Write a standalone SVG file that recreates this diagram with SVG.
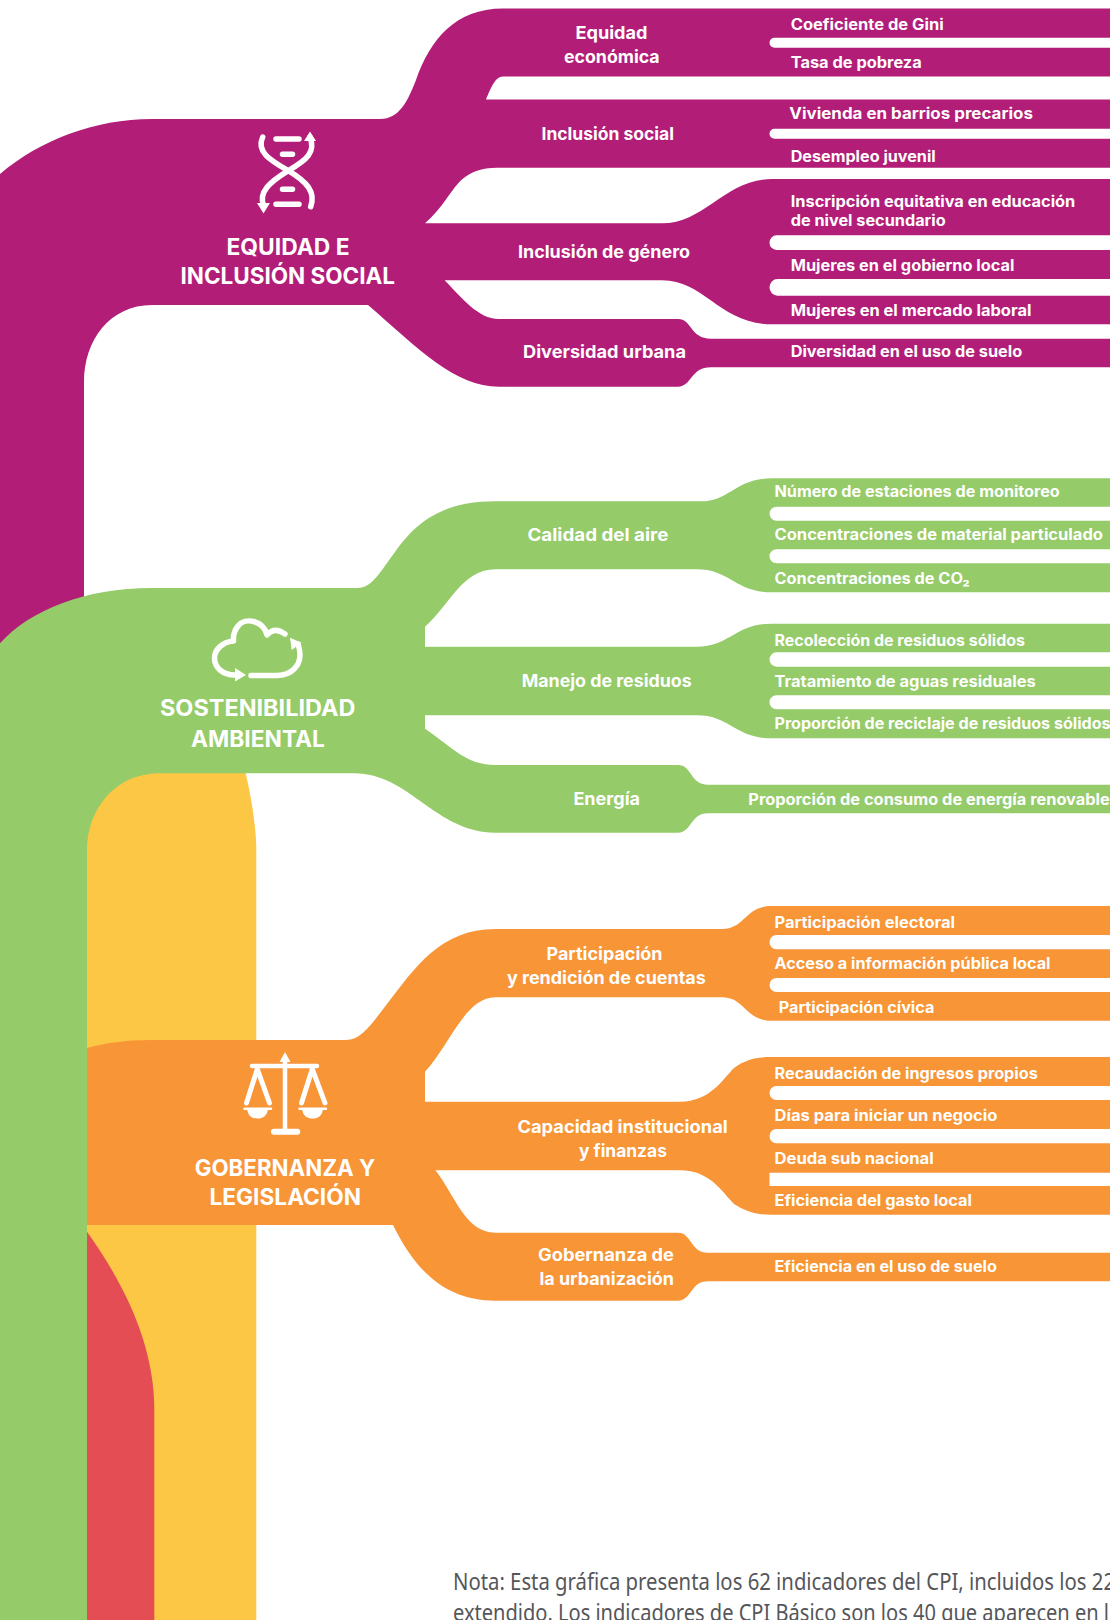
<svg xmlns="http://www.w3.org/2000/svg" width="1110" height="1620" viewBox="0 0 1110 1620">
<style>
text{font-family:"Inter","Liberation Sans",sans-serif;font-weight:700;fill:#fff}
.l{font-size:15.5px}
.m{font-size:17.5px}
.t{font-size:23px}
.n{font-family:"Noto Sans","Open Sans",sans-serif;font-weight:400;font-size:23.5px;fill:#55565a}
.p{fill:#fff}
.i{fill:none;stroke:#fff;stroke-width:5.5;stroke-linecap:round;stroke-linejoin:round}
.f{fill:#fff}
</style>
<rect width="1110" height="1620" fill="#fff"/>
<g id="bands">
<path id="band-yellow" fill="#FDC746" d="M87 850V773H245.6C252 800 256.3 830 256.3 850V1620H87Z"/>
<path id="band-red" fill="#E54D55" d="M87 1231.7C125 1285 154.3 1345 154.3 1410V1620H87Z"/>
</g>
<g id="equidad">
<path fill="#B21D78" d="M0 174C40 140 95 119 152 119H380C400 119 408 100 416 80C430 40 455 8.5 503 8.5H1110V76.5H503C495 76.5 491 88 486 99.5H1110V167.7H497C465 167.7 457 185 447 198C440 208 433 216 425 223.3H662C705 223.3 725 179 772 179H1110V324.3H772C720 324.3 705 280.3 662 280.3H444.6C462 298 478 319 499 319H678C692 319 690 338.7 711 338.7H1110V367.3H711C690 367.3 692 386.7 678 386.7H499C455 386.7 420 350 368 305H152C110 305 84 340 84 382V660H0Z"/>
<path class="p" d="M1110 37.7H774.5a5 5 0 0 0 0 10H1110ZM1110 128.7H774.5a5 5 0 0 0 0 10H1110ZM1110 235.3H776.5a7 7.35 0 0 0 0 14.7H1110ZM1110 279H777.5a8 8.35 0 0 0 0 16.7H1110Z"/>
<g id="icon-dna">
<path class="i" d="M262.7 137C256 152 270 160 288.3 170.7C307 182 316 192 310.7 206.7M310 137C316 152 307 160 288.3 170.7C270 182 258 192 263.7 206"/>
<path class="f" d="M310 131.5L316 141L304 141ZM263.5 213.5L257 203L270 203Z"/>
<path class="i" d="M276 139H299M282.5 154.3H292.5M282.5 189.3H292.5M276 204.3H299"/>
</g>
<text class="t" x="226.5" y="255" textLength="123" lengthAdjust="spacingAndGlyphs">EQUIDAD E</text>
<text class="t" x="180.5" y="284.3" textLength="214.5" lengthAdjust="spacingAndGlyphs">INCLUSIÓN SOCIAL</text>
<text class="m" x="575.5" y="38.7" textLength="72" lengthAdjust="spacingAndGlyphs">Equidad</text>
<text class="m" x="564" y="63" textLength="95.6" lengthAdjust="spacingAndGlyphs">económica</text>
<text class="m" x="541.5" y="140.3" textLength="132.5" lengthAdjust="spacingAndGlyphs">Inclusión social</text>
<text class="m" x="518" y="258.3" textLength="172" lengthAdjust="spacingAndGlyphs">Inclusión de género</text>
<text class="m" x="523" y="357.7" textLength="163" lengthAdjust="spacingAndGlyphs">Diversidad urbana</text>
<text class="l" x="790.7" y="30" textLength="153" lengthAdjust="spacingAndGlyphs">Coeficiente de Gini</text>
<text class="l" x="790.7" y="67.7" textLength="131" lengthAdjust="spacingAndGlyphs">Tasa de pobreza</text>
<text class="l" x="789.3" y="118.7" textLength="243.6" lengthAdjust="spacingAndGlyphs">Vivienda en barrios precarios</text>
<text class="l" x="790.7" y="162.3" textLength="145" lengthAdjust="spacingAndGlyphs">Desempleo juvenil</text>
<text class="l" x="790.7" y="206.7" textLength="284.6" lengthAdjust="spacingAndGlyphs">Inscripción equitativa en educación</text>
<text class="l" x="790.7" y="225.7" textLength="155" lengthAdjust="spacingAndGlyphs">de nivel secundario</text>
<text class="l" x="790.7" y="270.7" textLength="223.7" lengthAdjust="spacingAndGlyphs">Mujeres en el gobierno local</text>
<text class="l" x="790.7" y="316" textLength="240.7" lengthAdjust="spacingAndGlyphs">Mujeres en el mercado laboral</text>
<text class="l" x="790.7" y="357.3" textLength="231.5" lengthAdjust="spacingAndGlyphs">Diversidad en el uso de suelo</text>
</g>
<g id="sostenibilidad">
<path fill="#95CB69" d="M0 643.3C30 610 85 588 152 588H357.5C372 588 380 572 395 552C415 524 440 501.3 495.5 501.3H701C730 501.3 735 478.3 771.6 478.3H1110V592.3H771.6C735 592.3 730 569.3 697 569.3H495.5C462 569.3 450 605 425 626.7V646.7H697C730 646.7 735 623.7 771.6 623.7H1110V738.3H771.6C735 738.3 730 715.3 697 715.3H425V728.7C450 745 465 765 495.5 765H678C692 765 690 784.7 708 784.7H1110V813.3H708C690 813.3 692 832.7 678 832.7H495.5C435 832.7 410 773.3 354 773.3H159C115 773.3 87 810 87 850V1620H0Z"/>
<path class="p" d="M1110 506.7H776.5a7 7 0 0 0 0 14H1110ZM1110 549.3H776.5a7 7 0 0 0 0 14H1110ZM1110 652.3H776.5a7 7.2 0 0 0 0 14.4H1110ZM1110 695.3H776.5a7 7 0 0 0 0 14H1110Z"/>
<g id="icon-cloud">
<path class="i" d="M285 634C278 629 272 629 267 635C263 620 245 617 238 626C234 631 233 636 233.5 641C222 642 214.5 650 214.5 658C214.5 667 222 675 235 675M251 675.5H277C292 675.5 300 665 300 655C300 650 299 647 298 644"/>
<path class="f" d="M246 675L235 668L235 681.5ZM290 637.7L301.5 642.7L291.7 650Z"/>
</g>
<text class="t" x="160" y="716.2" textLength="195.4" lengthAdjust="spacingAndGlyphs">SOSTENIBILIDAD</text>
<text class="t" x="191" y="747.3" textLength="134" lengthAdjust="spacingAndGlyphs">AMBIENTAL</text>
<text class="m" x="527.4" y="541.3" textLength="141" lengthAdjust="spacingAndGlyphs">Calidad del aire</text>
<text class="m" x="521.7" y="686.9" textLength="170" lengthAdjust="spacingAndGlyphs">Manejo de residuos</text>
<text class="m" x="573.4" y="805" textLength="66.6" lengthAdjust="spacingAndGlyphs">Energía</text>
<text class="l" x="774.5" y="496.7" textLength="285.3" lengthAdjust="spacingAndGlyphs">Número de estaciones de monitoreo</text>
<text class="l" x="774.5" y="540.2" textLength="328.5" lengthAdjust="spacingAndGlyphs">Concentraciones de material particulado</text>
<text class="l" x="774.5" y="584" textLength="195.3" lengthAdjust="spacingAndGlyphs">Concentraciones de CO₂</text>
<text class="l" x="774.5" y="646" textLength="250.5" lengthAdjust="spacingAndGlyphs">Recolección de residuos sólidos</text>
<text class="l" x="774.5" y="687" textLength="261.2" lengthAdjust="spacingAndGlyphs">Tratamiento de aguas residuales</text>
<text class="l" x="774.5" y="729.3" textLength="336" lengthAdjust="spacingAndGlyphs">Proporción de reciclaje de residuos sólidos</text>
<text class="l" x="748.3" y="805" textLength="361.5" lengthAdjust="spacingAndGlyphs">Proporción de consumo de energía renovable</text>
</g>
<g id="gobernanza">
<path fill="#F79537" d="M87 1048C105 1043 125 1040 152 1040H346C362 1040 372 1023 387 1004C415 968 440 929 495.5 929H722C745 929 745 906 771.6 906H1110V1020.7H771.6C745 1020.7 745 997.3 722 997.3H495.5C465 997.3 450 1045 425 1071.7V1101.7H680C710 1101.7 722 1080 734 1068C745 1060 755 1057 771.6 1057H1110V1214.7H771.6C755 1214.7 745 1211 734 1204C722 1192 710 1170.3 680 1170.3H435.4C455 1195 465 1232.7 495.5 1232.7H678C692 1232.7 690 1252.7 708 1252.7H1110V1281.3H708C690 1281.3 692 1300.7 678 1300.7H495.5C445 1300.7 415 1270 393 1225H87Z"/>
<path class="p" d="M1110 935H776.5a7 7.15 0 0 0 0 14.3H1110ZM1110 978H776.5a7 7 0 0 0 0 14H1110ZM1110 1086H776.5a7 7 0 0 0 0 14H1110ZM1110 1129H776.5a7 7.15 0 0 0 0 14.3H1110ZM1110 1172.7H769.5V1186H1110Z"/>
<g id="icon-scales">
<path class="i" style="stroke-width:4.5" d="M285 1060V1131M252 1066H317"/>
<path class="f" d="M285 1052L279.5 1062L290.5 1062ZM274 1128.7H297.3a3 3 0 0 1 0 6H274a3 3 0 0 1 0 -6Z"/>
<path class="i" style="stroke-width:5" d="M257.3 1069L246.5 1103M257.3 1069L269.5 1103M312.3 1069L301.5 1103M312.3 1069L325 1103"/>
<path class="i" style="stroke-width:2.5" d="M244.5 1108.7H271M299.5 1108.7H326"/>
<path class="f" d="M247 1109H268C267 1116 263 1118.5 257.5 1118.5C252 1118.5 248 1116 247 1109ZM302 1109H323C322 1116 318.3 1118.5 312.8 1118.5C307 1118.5 303 1116 302 1109Z"/>
</g>
<text class="t" x="194.7" y="1175.7" textLength="180.5" lengthAdjust="spacingAndGlyphs">GOBERNANZA Y</text>
<text class="t" x="209.5" y="1205" textLength="151.5" lengthAdjust="spacingAndGlyphs">LEGISLACIÓN</text>
<text class="m" x="546.5" y="960.3" textLength="116" lengthAdjust="spacingAndGlyphs">Participación</text>
<text class="m" x="507" y="984.3" textLength="198.8" lengthAdjust="spacingAndGlyphs">y rendición de cuentas</text>
<text class="m" x="517.5" y="1133" textLength="210.2" lengthAdjust="spacingAndGlyphs">Capacidad institucional</text>
<text class="m" x="579" y="1157" textLength="87.9" lengthAdjust="spacingAndGlyphs">y finanzas</text>
<text class="m" x="538" y="1261" textLength="136" lengthAdjust="spacingAndGlyphs">Gobernanza de</text>
<text class="m" x="539.4" y="1285.3" textLength="134.6" lengthAdjust="spacingAndGlyphs">la urbanización</text>
<text class="l" x="774.5" y="927.6" textLength="180.5" lengthAdjust="spacingAndGlyphs">Participación electoral</text>
<text class="l" x="774.5" y="968.7" textLength="276" lengthAdjust="spacingAndGlyphs">Acceso a información pública local</text>
<text class="l" x="778.7" y="1013" textLength="155.7" lengthAdjust="spacingAndGlyphs">Participación cívica</text>
<text class="l" x="774.5" y="1078.6" textLength="263.3" lengthAdjust="spacingAndGlyphs">Recaudación de ingresos propios</text>
<text class="l" x="774.5" y="1121" textLength="223" lengthAdjust="spacingAndGlyphs">Días para iniciar un negocio</text>
<text class="l" x="774.5" y="1164" textLength="159.2" lengthAdjust="spacingAndGlyphs">Deuda sub nacional</text>
<text class="l" x="774.5" y="1205.7" textLength="197.5" lengthAdjust="spacingAndGlyphs">Eficiencia del gasto local</text>
<text class="l" x="774.5" y="1272.3" textLength="222.3" lengthAdjust="spacingAndGlyphs">Eficiencia en el uso de suelo</text>
</g>
<g id="nota">
<text class="n" x="453" y="1590" textLength="662" lengthAdjust="spacingAndGlyphs">Nota: Esta gráfica presenta los 62 indicadores del CPI, incluidos los 22</text>
<text class="n" x="453" y="1621" textLength="656" lengthAdjust="spacingAndGlyphs">extendido. Los indicadores de CPI Básico son los 40 que aparecen en l</text>
</g>
</svg>
